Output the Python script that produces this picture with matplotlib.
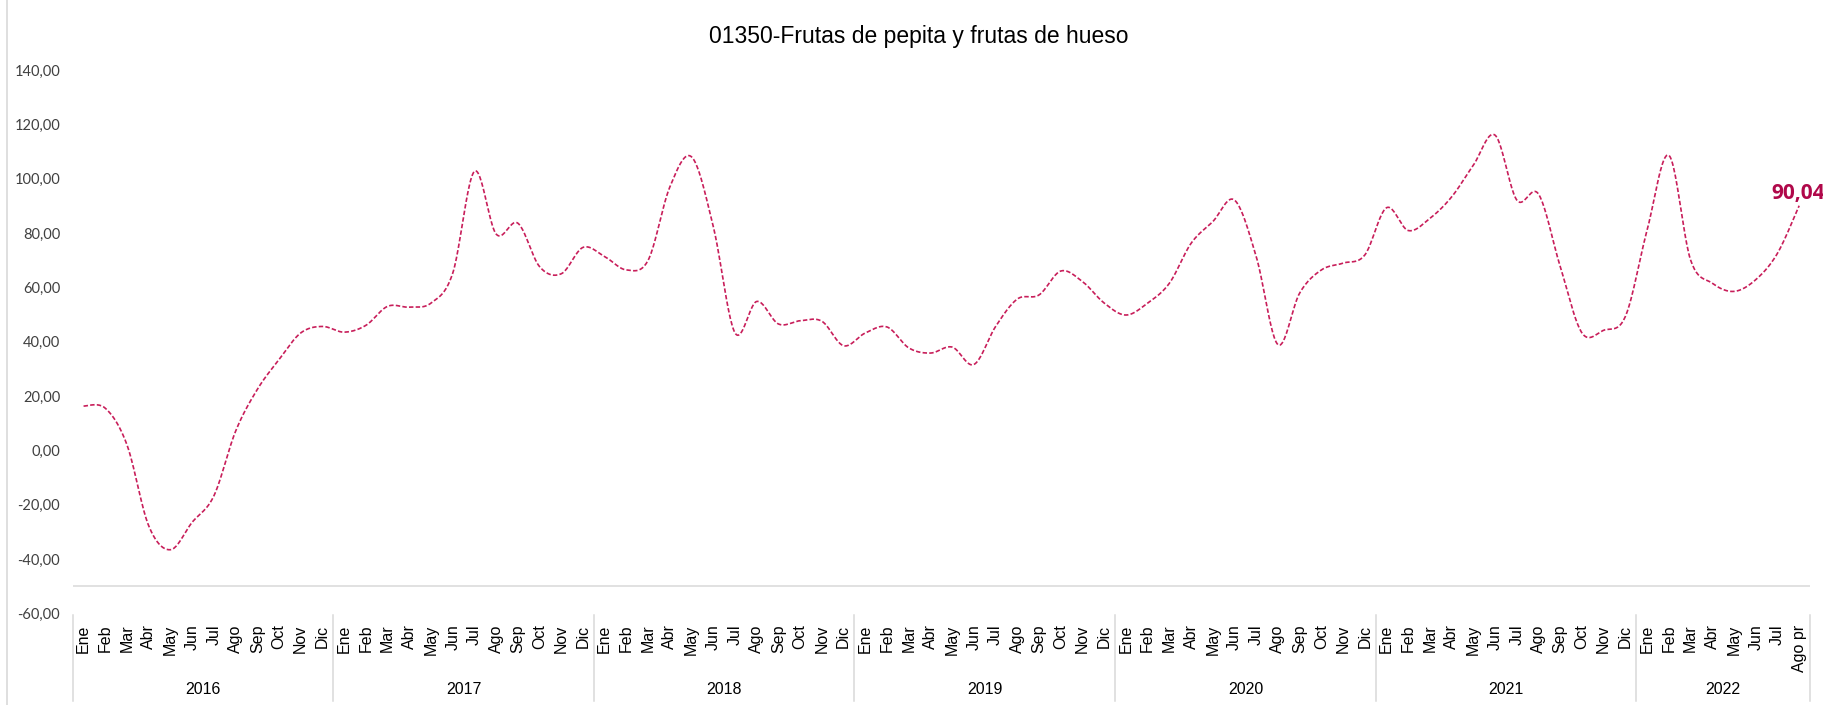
import numpy as np
import matplotlib
matplotlib.use("Agg")
import matplotlib.pyplot as plt
from matplotlib.transforms import blended_transform_factory

# ---------------- data ----------------
years = ["2016", "2017", "2018", "2019", "2020", "2021", "2022"]
months = ["Ene", "Feb", "Mar", "Abr", "May", "Jun", "Jul", "Ago", "Sep", "Oct", "Nov", "Dic"]
months_2022 = ["Ene", "Feb", "Mar", "Abr", "May", "Jun", "Jul", "Ago pr"]

values_2016 = [16.3, 15.5, 2.0, -27.8, -36.6, -26.5, -16.8, 7.0, 22.4, 33.4, 43.2, 45.6]
values_2017 = [43.5, 46.0, 53.0, 52.7, 54.2, 65.2, 102.7, 79.6, 83.6, 67.6, 65.0, 74.7]
values_2018 = [71.3, 66.4, 70.0, 97.0, 108.0, 82.3, 43.2, 54.8, 46.5, 47.7, 47.5, 38.5]
values_2019 = [43.2, 45.4, 37.7, 35.8, 38.0, 31.6, 45.6, 55.7, 57.2, 66.0, 62.1, 54.2]
values_2020 = [49.8, 54.2, 61.5, 76.2, 84.2, 92.1, 71.3, 38.9, 57.9, 66.4, 68.9, 71.9]
values_2021 = [89.3, 80.9, 85.4, 93.3, 105.0, 116.0, 92.1, 94.3, 67.6, 43.2, 44.2, 49.3]
values_2022 = [81.1, 108.6, 70.1, 61.5, 58.5, 62.8, 72.5, 90.04]

yticks = [-60, -40, -20, 0, 20, 40, 60, 80, 100, 120, 140]
title = "01350-Frutas de pepita y frutas de hueso"
last_label = "90,04"

# -------------- assemble --------------
values = (values_2016 + values_2017 + values_2018 + values_2019 +
          values_2020 + values_2021 + values_2022)
labels = months * 6 + months_2022
group_sizes = [12, 12, 12, 12, 12, 12, len(months_2022)]
x = np.arange(len(values), dtype=float)
y = np.array(values, dtype=float)


def smooth_curve(xs, ys, n=24):
    """Excel-like smoothed line (Catmull-Rom cubic Bezier through the points)."""
    pts = np.column_stack([xs, ys])
    out = [pts[0]]
    t = np.linspace(0, 1, n)[1:, None]
    for i in range(len(pts) - 1):
        p0 = pts[i - 1] if i > 0 else pts[i]
        p1 = pts[i]
        p2 = pts[i + 1]
        p3 = pts[i + 2] if i + 2 < len(pts) else pts[i + 1]
        c1 = p1 + (p2 - p0) / 6.0
        c2 = p2 - (p3 - p1) / 6.0
        seg = ((1 - t) ** 3) * p1 + 3 * ((1 - t) ** 2) * t * c1 + 3 * (1 - t) * t ** 2 * c2 + t ** 3 * p2
        out.extend(seg)
    out = np.array(out)
    return out[:, 0], out[:, 1]


plt.rcParams["lines.scale_dashes"] = False
W, H = 1823, 705
fig = plt.figure(figsize=(W / 100, H / 100), dpi=100)
left_px, right_px, top_px, bottom_px = 72.7, 1810.0, 70.0, 613.3
ax = fig.add_axes([left_px / W, 1 - bottom_px / H, (right_px - left_px) / W, (bottom_px - top_px) / H])

line_color = "#C81E5A"
sx, sy = smooth_curve(x, y)
ax.plot(sx, sy, color=line_color, lw=1.2, dashes=(3.2, 1.6), solid_capstyle="butt")

ax.set_xlim(-0.5, len(values) - 0.5)
ax.set_ylim(-60, 140)
for s in ax.spines.values():
    s.set_visible(False)

ax.axhline(-50, color="#d9d9d9", lw=1.1, zorder=0)

ax.set_yticks(yticks)
ax.set_yticklabels([f"{v:.2f}".replace(".", ",") for v in yticks], fontfamily="Lato", fontsize=10.5, color="#404040")
ax.tick_params(axis="y", length=0, pad=9)

ax.set_xticks(x)
ax.set_xticklabels(labels, rotation=90, fontfamily="Liberation Sans", fontsize=11.5, color="#000000")
ax.tick_params(axis="x", length=0, pad=8)

# year groups
trans = blended_transform_factory(ax.transData, ax.transAxes)
axh = bottom_px - top_px
y_sep_top = (bottom_px - 615) / axh
y_sep_bot = (bottom_px - 701) / axh
y_year = (bottom_px - 690) / axh
start = 0
bounds = [-0.5]
for yr, n in zip(years, group_sizes):
    center = start + (n - 1) / 2
    ax.text(center, y_year, yr, transform=trans, ha="center", va="center",
            fontfamily="Liberation Sans", fontsize=11.5, color="#000000")
    start += n
    bounds.append(start - 0.5)
for b in bounds:
    ax.plot([b, b], [y_sep_top, y_sep_bot], transform=trans, color="#d9d9d9", lw=1.1, clip_on=False)

# last value label
ax.annotate(last_label, (x[-1], y[-1]), xytext=(-1, 1.5), textcoords="offset points",
            ha="center", va="bottom", fontfamily="Open Sans", fontweight="bold",
            fontsize=15, color="#B0084A", annotation_clip=False)

# title
fig.text(919 / W, 1 - 36 / H, title, ha="center", va="center",
         fontfamily="Liberation Sans", fontsize=16.5, color="#000000")

# chart border on the left
fig.add_artist(plt.Line2D([7 / W, 7 / W], [0, 1], color="#d9d9d9", lw=1.2, transform=fig.transFigure))

fig.savefig("out.png", dpi=100, facecolor="white")
